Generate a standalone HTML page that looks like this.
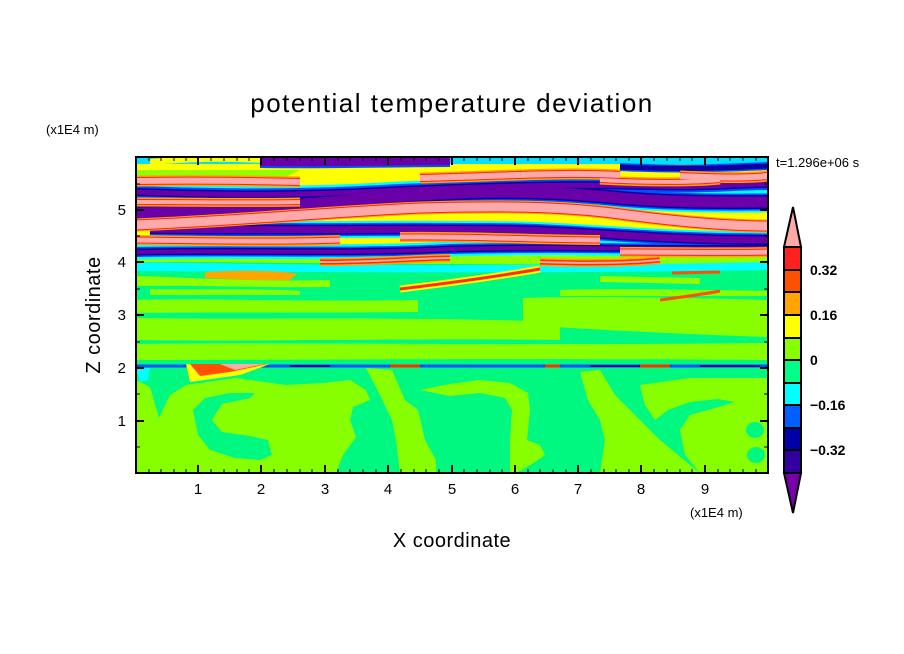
<!DOCTYPE html>
<html><head><style>
html,body{margin:0;padding:0;background:#fff;}
svg{display:block;font-family:"Liberation Sans",sans-serif;}
</style></head><body>
<svg width="904" height="654" viewBox="0 0 904 654" xmlns="http://www.w3.org/2000/svg" xmlns:xlink="http://www.w3.org/1999/xlink">
<rect width="904" height="654" fill="#fff"/>
<defs>
<clipPath id="c"><rect x="136" y="157" width="632" height="316"/></clipPath>
<path id="n1" d="M136 192 C220 195 300 196 400 190 C500 186 560 184 650 186 C700 188 740 184 768 184"/>
<path id="n2" d="M136 213 C250 210 350 200 420 195 C500 190 560 192 620 198 C680 203 730 202 768 202"/>
<path id="n3" d="M150 229 C300 231 420 228 520 230 C600 232 650 240 768 240"/>
<path id="n4" d="M136 252 C250 250 350 254 450 249 C560 246 650 250 768 248"/>
<path id="n0" d="M260 161 C320 162 400 160 450 160"/>
<path id="n5" d="M620 167 C680 170 720 168 768 166"/>
<path id="p1" d="M136 181 C200 180 260 181 300 182 M420 178 C500 176 560 172 620 175 M680 176 C720 178 750 178 768 176"/>
<path id="p2" d="M136 225 C250 220 330 212 420 208 C500 206 560 206 620 214 C680 222 730 226 768 226"/>
<path id="p3" d="M136 240 C220 241 280 242 340 240 M400 237 C470 236 540 240 600 240 M620 252 C680 252 740 253 768 252"/>
<path id="p0" d="M136 202 C200 202 250 203 300 202 M600 180 C650 183 700 182 720 180"/>
<path id="p4" d="M320 262 C380 262 420 258 450 258 M540 262 C600 264 640 262 660 260"/>
</defs>
<g clip-path="url(#c)">
<rect x="136" y="157" width="632" height="316" fill="#00f880"/>
<path d="M136 300 C200 298 300 302 418 300 L418 312 C300 313 200 312 136 313 Z" fill="#88ff00"/>
<path d="M523 298 C600 296 700 298 768 300 L768 337 C700 335 600 330 523 325 Z" fill="#88ff00"/>
<path d="M136 318 C250 320 400 316 560 322 L560 340 C400 338 250 342 136 340 Z" fill="#88ff00"/>
<path d="M136 344 C300 342 500 346 768 343 L768 360 C500 358 300 360 136 360 Z" fill="#88ff00"/>
<path d="M150 289 C200 290 260 288 300 291 L300 295 L150 295 Z M560 290 C620 288 700 290 768 291 L768 296 L560 296 Z" fill="#88ff00"/>
<path d="M136 380 L150 387 L159 418 L170 395 L186 385 L236 378 L286 385 L323 383 L350 380 L366 390 L370 400 L353 407 L350 420 L356 437 L343 455 L336 473 L136 473 Z" fill="#88ff00"/>
<path d="M193 410 L205 398 L230 393 L255 393 L250 398 L222 404 L212 420 L222 432 L250 436 L268 440 L272 455 L260 460 L235 458 L210 450 L198 435 Z" fill="#00f880"/>
<path d="M366 368 L392 370 L405 400 L418 410 L425 440 L436 460 L436 473 L400 473 L396 440 L392 420 L380 395 Z" fill="#88ff00"/>
<path d="M420 390 L450 384 L480 380 L510 383 L528 393 L530 410 L527 440 L540 445 L545 455 L535 462 L522 470 L515 473 L510 473 L510 440 L512 410 L505 398 L480 393 L450 396 Z" fill="#88ff00"/>
<path d="M580 372 L600 370 L615 395 L640 420 L660 440 L690 465 L700 473 L600 473 L605 440 L600 420 L588 400 Z" fill="#88ff00"/>
<path d="M640 385 L690 378 L768 378 L768 473 L700 473 L685 455 L680 430 L690 415 L715 408 L735 402 L718 399 L690 402 L668 410 L655 420 L645 405 Z" fill="#88ff00"/>
<ellipse cx="755" cy="430" rx="9" ry="8" fill="#00f880"/><ellipse cx="756" cy="455" rx="9" ry="8" fill="#00f880"/>
<path d="M136 368 L150 368 L148 380 L140 382 Z" fill="#00ffff"/>
<path d="M136 366 L768 366" stroke="#0050ff" stroke-width="3"/>
<path d="M290 366 L330 366 M590 366 L640 366 M700 366 L760 366" stroke="#0000a0" stroke-width="2"/>
<path d="M186 364 L270 364 L240 375 L190 382 Z" fill="#ffff00"/>
<path d="M190 364 L268 364 L230 372 L200 376 Z" fill="#ff5000"/>
<path d="M220 364 L265 364 L235 370 Z" fill="#ffaaaa"/>
<path d="M390 366 L420 366 M545 366 L560 366 M640 366 L670 366" stroke="#ff3000" stroke-width="3"/>
<!-- upper base -->
<rect x="136" y="157" width="632" height="100" fill="#ffff00"/>
<path d="M136 170 L300 170 L260 190 L136 195 Z M450 230 L560 228 L560 250 L450 252 Z M640 185 L768 188 L768 196 L640 194 Z" fill="#90ff00"/>
<path d="M136 255 C250 256 450 258 768 254 L768 264 C500 266 300 262 136 262 Z" fill="#90ff00"/>
<path d="M136 262 C250 264 450 268 768 262 L768 270 C500 274 300 272 136 271 Z" fill="#00ffff"/>
<path d="M205 272 C240 270 280 270 297 274 L290 280 C260 281 230 279 205 278 Z" fill="#ffa500"/>
<path d="M136 276 C200 278 260 282 330 280 L330 287 C260 288 200 285 136 286 Z M600 276 L700 278 L700 284 L600 282 Z" fill="#90ff00"/>
<path d="M400 289 C450 283 500 276 540 269" stroke="#ffff00" stroke-width="7" fill="none"/>
<path d="M400 289 C450 283 500 276 540 269" stroke="#ff3000" stroke-width="3" fill="none"/>
<path d="M660 300 C690 296 710 293 720 291 M672 273 L720 272" stroke="#ff5000" stroke-width="3" fill="none"/>
<path d="M136 160 L768 160" stroke="#00e0ff" stroke-width="8"/>
<path d="M150 162 C200 158 230 158 260 160" stroke="#ffff00" stroke-width="6" fill="none"/>
<g fill="none">
<use xlink:href="#n0" stroke="#0050ff" stroke-width="14"/>
<use xlink:href="#n5" stroke="#0050ff" stroke-width="8"/>
<use xlink:href="#n0" stroke="#6a00a8" stroke-width="10"/>
<use xlink:href="#n5" stroke="#1000a0" stroke-width="5"/>
<use xlink:href="#n1" stroke="#00ffff" stroke-width="17"/>
<use xlink:href="#n2" stroke="#00ffff" stroke-width="21"/>
<use xlink:href="#n3" stroke="#00ffff" stroke-width="17"/>
<use xlink:href="#n4" stroke="#00ffff" stroke-width="15"/>
<use xlink:href="#n1" stroke="#0050ff" stroke-width="12"/>
<use xlink:href="#n2" stroke="#0050ff" stroke-width="17"/>
<use xlink:href="#n3" stroke="#0050ff" stroke-width="13"/>
<use xlink:href="#n4" stroke="#0050ff" stroke-width="10"/>
<use xlink:href="#n1" stroke="#1000a0" stroke-width="8"/>
<use xlink:href="#n2" stroke="#1000a0" stroke-width="14"/>
<use xlink:href="#n3" stroke="#1000a0" stroke-width="10"/>
<use xlink:href="#n4" stroke="#1000a0" stroke-width="7"/>
<use xlink:href="#n1" stroke="#6a00a8" stroke-width="5"/>
<use xlink:href="#n2" stroke="#6a00a8" stroke-width="11"/>
<use xlink:href="#n3" stroke="#6a00a8" stroke-width="7"/>
<use xlink:href="#n4" stroke="#6a00a8" stroke-width="4"/>
<use xlink:href="#p1" stroke="#ffa500" stroke-width="11"/>
<use xlink:href="#p2" stroke="#ffa500" stroke-width="13"/>
<use xlink:href="#p3" stroke="#ffa500" stroke-width="10"/>
<use xlink:href="#p0" stroke="#ffa500" stroke-width="9"/>
<use xlink:href="#p4" stroke="#ffa500" stroke-width="8"/>
<use xlink:href="#p1" stroke="#ff2020" stroke-width="8"/>
<use xlink:href="#p2" stroke="#ff2020" stroke-width="11"/>
<use xlink:href="#p3" stroke="#ff2020" stroke-width="7"/>
<use xlink:href="#p0" stroke="#ff2020" stroke-width="6"/>
<use xlink:href="#p4" stroke="#ff3000" stroke-width="5"/>
<use xlink:href="#p1" stroke="#ffaaaa" stroke-width="6"/>
<use xlink:href="#p2" stroke="#ffaaaa" stroke-width="9"/>
<use xlink:href="#p3" stroke="#ffaaaa" stroke-width="5"/>
<use xlink:href="#p0" stroke="#ffaaaa" stroke-width="4"/>
<use xlink:href="#p4" stroke="#ffaaaa" stroke-width="2"/>
</g>
</g>
<rect x="136" y="157" width="632" height="316" fill="none" stroke="#000" stroke-width="2"/>
<g stroke="#000" stroke-width="2">
<path d="M198 473v-8M261 473v-8M325 473v-8M388 473v-8M452 473v-8M515 473v-8M578 473v-8M641 473v-8M705 473v-8"/>
<path d="M198 157v8M261 157v8M325 157v8M388 157v8M452 157v8M515 157v8M578 157v8M641 157v8M705 157v8"/>
<path d="M136 421h8M136 368h8M136 315h8M136 262h8M136 210h8"/>
<path d="M768 421h-8M768 368h-8M768 315h-8M768 262h-8M768 210h-8"/>
</g>
<g stroke="#000" stroke-width="1">
<path d="M149 473v-4M161 473v-4M174 473v-4M186 473v-4M211 473v-4M224 473v-4M237 473v-4M249 473v-4M274 473v-4M287 473v-4M300 473v-4M312 473v-4M338 473v-4M350 473v-4M363 473v-4M376 473v-4M401 473v-4M414 473v-4M426 473v-4M439 473v-4M464 473v-4M477 473v-4M490 473v-4M502 473v-4M528 473v-4M540 473v-4M553 473v-4M566 473v-4M591 473v-4M604 473v-4M616 473v-4M629 473v-4M654 473v-4M667 473v-4M680 473v-4M692 473v-4M718 473v-4M730 473v-4M743 473v-4M756 473v-4"/>
<path d="M149 157v4M161 157v4M174 157v4M186 157v4M211 157v4M224 157v4M237 157v4M249 157v4M274 157v4M287 157v4M300 157v4M312 157v4M338 157v4M350 157v4M363 157v4M376 157v4M401 157v4M414 157v4M426 157v4M439 157v4M464 157v4M477 157v4M490 157v4M502 157v4M528 157v4M540 157v4M553 157v4M566 157v4M591 157v4M604 157v4M616 157v4M629 157v4M654 157v4M667 157v4M680 157v4M692 157v4M718 157v4M730 157v4M743 157v4M756 157v4"/>
<path d="M136 447h4M136 394h4M136 342h4M136 289h4M136 236h4M136 184h4M768 447h-4M768 394h-4M768 342h-4M768 289h-4M768 236h-4M768 184h-4"/>
</g>
<g font-size="15" fill="#000" text-anchor="middle">
<text x="198" y="494">1</text><text x="261" y="494">2</text><text x="325" y="494">3</text><text x="388" y="494">4</text><text x="452" y="494">5</text><text x="515" y="494">6</text><text x="578" y="494">7</text><text x="641" y="494">8</text><text x="705" y="494">9</text>
</g>
<g font-size="15" fill="#000" text-anchor="end">
<text x="126" y="426">1</text><text x="126" y="373">2</text><text x="126" y="320">3</text><text x="126" y="267">4</text><text x="126" y="215">5</text>
</g>
<text x="452" y="112" font-size="26" text-anchor="middle" letter-spacing="1.5">potential temperature deviation</text>
<text x="452" y="547" font-size="20" text-anchor="middle" letter-spacing="0.5">X coordinate</text>
<text x="100" y="315" font-size="20" text-anchor="middle" letter-spacing="0.5" transform="rotate(-90 100 315)">Z coordinate</text>
<text x="46" y="134" font-size="13">(x1E4 m)</text>
<text x="690" y="517" font-size="13">(x1E4 m)</text>
<text x="776" y="167" font-size="13">t=1.296e+06 s</text>
<g stroke="#000" stroke-width="2">
<polygon points="784,247 793,207 801,247" fill="#ffaaaa"/>
<rect x="784" y="247" width="17" height="23" fill="#ff2020"/>
<rect x="784" y="270" width="17" height="22" fill="#ff5000"/>
<rect x="784" y="292" width="17" height="23" fill="#ffa500"/>
<rect x="784" y="315" width="17" height="23" fill="#ffff00"/>
<rect x="784" y="338" width="17" height="22" fill="#88ff00"/>
<rect x="784" y="360" width="17" height="23" fill="#00ff88"/>
<rect x="784" y="383" width="17" height="22" fill="#00ffff"/>
<rect x="784" y="405" width="17" height="23" fill="#0060ff"/>
<rect x="784" y="428" width="17" height="22" fill="#0000a8"/>
<rect x="784" y="450" width="17" height="23" fill="#3300a0"/>
<polygon points="784,473 793,513 801,473" fill="#7700aa"/>
</g>
<g font-size="14" font-weight="bold" fill="#000">
<text x="810" y="275">0.32</text>
<text x="810" y="320">0.16</text>
<text x="810" y="365">0</text>
<text x="810" y="410">−0.16</text>
<text x="810" y="455">−0.32</text>
</g>
</svg>
</body></html>
